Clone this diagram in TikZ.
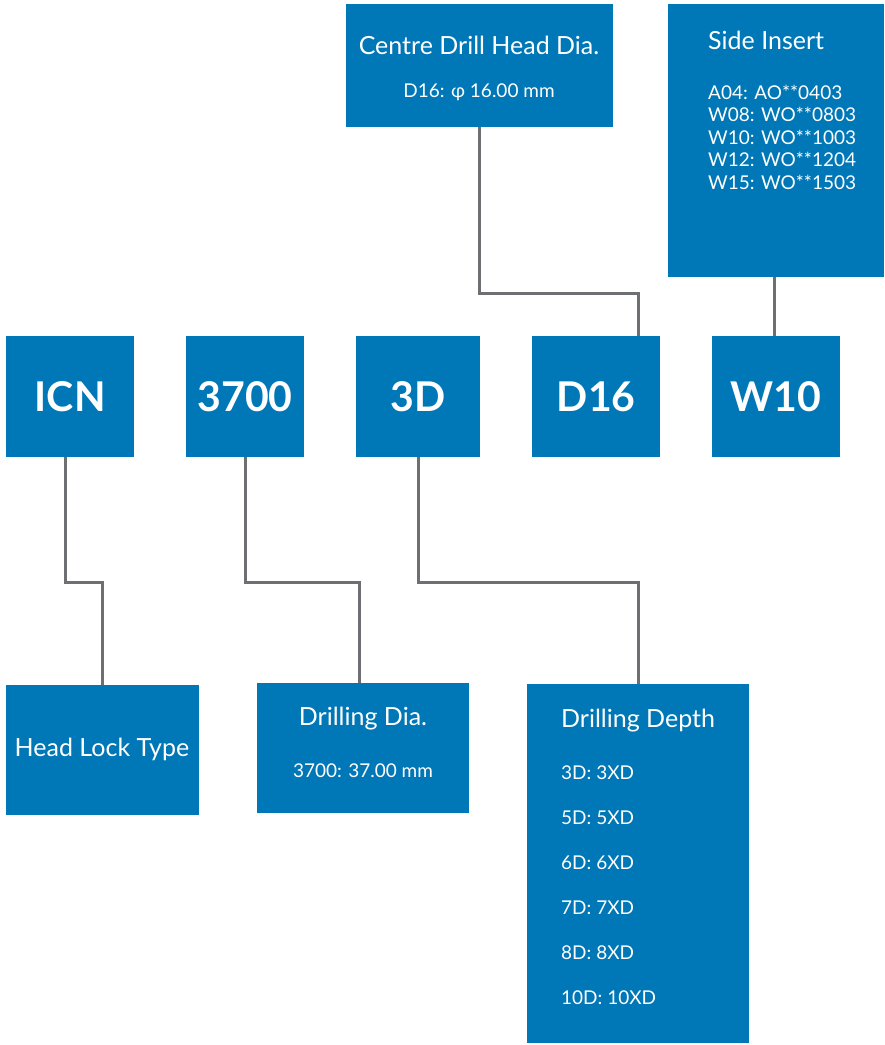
\documentclass[tikz,border=0pt]{standalone}
\usepackage{fontspec}
\setmainfont{Lato}
\definecolor{boxblue}{HTML}{0077B6}
\definecolor{linegrey}{HTML}{6E6F72}
\tikzset{
  box/.style={fill=boxblue, inner sep=0pt, anchor=north west},
  codetext/.style={text=white, font=\fontsize{41}{45}\selectfont\bfseries},
  titletext/.style={text=white, font=\fontsize{25}{30}\selectfont},
  infotext/.style={text=white, font=\fontsize{19}{22}\selectfont},
  link/.style={draw=linegrey, line width=3pt},
}
\begin{document}
\begin{tikzpicture}[x=1pt,y=-1pt]

  \useasboundingbox (0,0) rectangle (885,1045);

  % code row
  \foreach \name/\x/\w/\txt in {icn/6/128/ICN, dia/186/118/3700, dep/356/124/3D, cdh/532/128/D16, ins/712/128/W10} {
    \node[box, minimum width=\w pt, minimum height=121pt] (\name) at (\x,336) {};
    \node[codetext] (\name txt) at (\name.center) {\txt};
  }

  % description boxes
  \node[box, minimum width=267pt, minimum height=123pt] (cdhbox) at (346,4) {};
  \node[box, minimum width=216pt, minimum height=273pt] (insbox) at (668,4) {};
  \node[box, minimum width=193pt, minimum height=130pt] (icnbox) at (6,685) {};
  \node[box, minimum width=212pt, minimum height=130pt] (diabox) at (257,683) {};
  \node[box, minimum width=222pt, minimum height=359pt] (depbox) at (527,684) {};

  \node[titletext] (cdhtitle) at (479,45) {Centre Drill Head Dia.};
  \node[infotext] (cdhinfo) at (479,92) {D16: φ 16.00 mm};

  \node[titletext, anchor=west, inner xsep=0pt] (institle) at (708,40) {Side Insert};
  \foreach \i/\txt in {0/A04: AO**0403, 1/W08: WO**0803, 2/W10: WO**1003, 3/W12: WO**1204, 4/W15: WO**1503} {
    \node[infotext, anchor=west, inner xsep=0pt] (insinfo\i) at (708,92+22.5*\i) {\txt};
  }

  \node[titletext] (icntitle) at (102,749) {Head Lock Type};

  \node[titletext] (diatitle) at (363,719) {Drilling Dia.};
  \node[infotext] (diainfo) at (363,771) {3700: 37.00 mm};

  \node[titletext, anchor=west, inner xsep=0pt] (deptitle) at (561,721) {Drilling Depth};
  \foreach \i/\txt in {0/3D: 3XD, 1/5D: 5XD, 2/6D: 6XD, 3/7D: 7XD, 4/8D: 8XD, 5/10D: 10XD} {
    \node[infotext, anchor=west, inner xsep=0pt] (depinfo\i) at (561,773+45*\i) {\txt};
  }

  % connectors
  \draw[link] ([xshift=-5pt]icn.south) -- ++(0,125) -| (icnbox.north);
  \draw[link] (dia.south) -- ++(0,125) -| ([xshift=-4pt]diabox.north);
  \draw[link] (dep.south) -- ++(0,125) -| (depbox.north);
  \draw[link] ([xshift=42pt]cdh.north) -- ++(0,-43) -| (cdhbox.south);
  \draw[link] ([xshift=-2pt]ins.north) -- ([xshift=-2pt]ins.north |- insbox.south);

\end{tikzpicture}
\end{document}
